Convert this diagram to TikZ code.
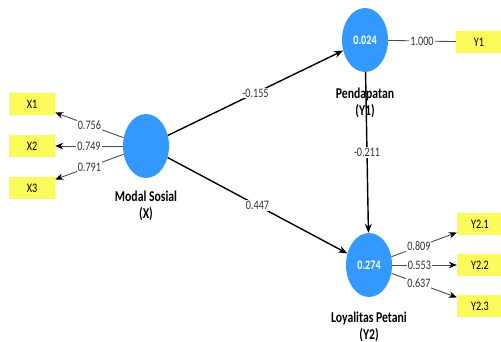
\documentclass[tikz,border=0pt]{standalone}
\usepackage{fontspec}
\setmainfont{Carlito}
\newfontfamily\narrowfont{Carlito}[FakeStretch=0.78]
\usetikzlibrary{shapes.geometric, positioning, arrows.meta}
\definecolor{latentblue}{RGB}{51,153,255}
\definecolor{boxyellow}{RGB}{250,250,90}

\begin{document}
\begin{tikzpicture}[
    x=1pt, y=-1pt,
    font=\narrowfont\fontsize{13}{14}\selectfont,
    latent/.style={
        ellipse,
        fill=latentblue,
        minimum width=46pt,
        minimum height=64pt,
        inner sep=0pt,
        text=white,
        font=\narrowfont\fontsize{13}{14}\selectfont\bfseries
    },
    indicator/.style={
        fill=boxyellow,
        minimum width=46pt,
        minimum height=22pt,
        inner sep=0pt
    },
    caption/.style={
        font=\narrowfont\fontsize{15}{17}\selectfont\bfseries,
        align=center
    },
    outer_path/.style={
        draw=black!70,
        line width=0.9pt,
        -{Stealth[black, length=8pt, width=6.5pt]}
    },
    inner_path/.style={
        draw=black,
        line width=1.4pt,
        -{Stealth[length=9pt, width=7pt]}
    },
    coef/.style={
        fill=white,
        inner sep=1pt,
        text=black!80
    }
]

    \useasboundingbox (0,0) rectangle (501,342);

    % Latent variables
    \node[latent] (X) at (146,146) {};
    \node[latent] (Y1) at (365,40) {0.024};
    \node[latent] (Y2) at (369,265) {0.274};

    % Captions
    \node[caption, below=9pt of X] (capX) {Modal Sosial\\(X)};
    \node[caption, below=12pt of Y1] (capY1) {Pendapatan\\(Y1)};
    \node[caption, below=11pt of Y2] (capY2) {Loyalitas Petani\\(Y2)};

    % Indicators
    \node[indicator] (X1) at (32,104) {X1};
    \node[indicator] (X2) at (32,146) {X2};
    \node[indicator] (X3) at (32,188) {X3};
    \node[indicator] (Y11) at (479,42) {Y1};
    \node[indicator] (Y21) at (480,224) {Y2.1};
    \node[indicator] (Y22) at (480,265) {Y2.2};
    \node[indicator] (Y23) at (480,306) {Y2.3};

    % Outer loadings
    \draw[outer_path] (X) -- node[coef] {0.756} (X1);
    \draw[outer_path] (X) -- node[coef] {0.749} (X2);
    \draw[outer_path] (X) -- node[coef] {0.791} (X3);
    \draw[draw=black!70, line width=0.9pt] (Y1) -- node[coef] {1.000} (Y11);
    \draw[outer_path] (Y2) -- node[coef, pos=0.42] {0.809} (Y21);
    \draw[outer_path] (Y2) -- node[coef, pos=0.42] {0.553} (Y22);
    \draw[outer_path] (Y2) -- node[coef, pos=0.42] {0.637} (Y23);

    % Path coefficients
    \draw[inner_path] (X) -- node[coef] {-0.155} (Y1);
    \draw[inner_path] (X) -- node[coef] {0.447} (Y2);
    \draw[inner_path] (Y1) -- node[coef] {-0.211} (Y2);

\end{tikzpicture}
\end{document}
